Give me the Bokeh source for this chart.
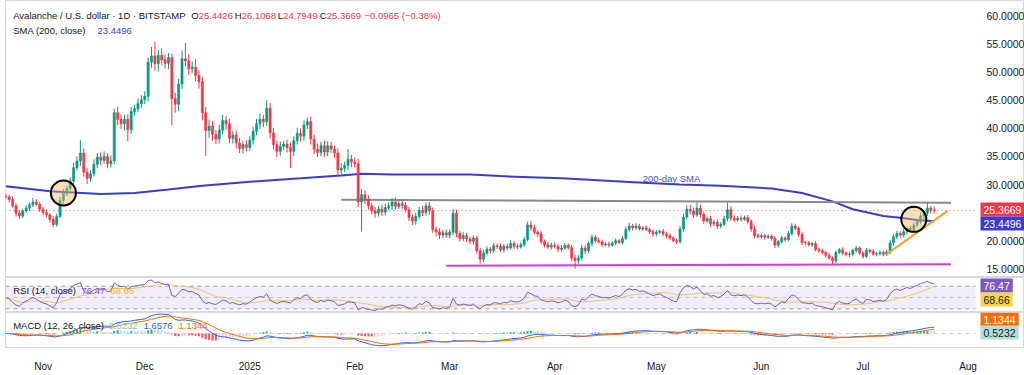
import numpy as np
import pandas as pd
from bokeh.plotting import figure
from bokeh.layouts import column
from bokeh.models import (Range1d, FixedTicker, Label, Span, ColumnDataSource,
                          BoxAnnotation, NumeralTickFormatter)
from bokeh.embed import file_html
from bokeh.resources import INLINE
from bokeh.core.properties import value

# ---------------- data ----------------
start_date = "2024-10-21"
first_open = 27.9

close_oct = [27.8, 27.3, 26.2, 24.9, 24.4, 25.3, 25.8, 26.4, 26.9, 26.5, 25.6]
close_nov = [25.0, 24.6, 23.8, 22.9, 24.3, 27.2, 28.4, 29.3, 30.6, 33.0, 34.2, 35.6, 32.2, 31.1, 31.9,
             33.6, 34.9, 34.3, 35.0, 33.7, 34.2, 42.8, 41.6, 40.8, 41.6, 39.8, 43.0, 43.5, 44.4, 45.1]
close_dec = [45.7, 51.8, 52.9, 51.5, 53.0, 52.2, 51.6, 52.6, 45.3, 44.3, 47.9, 52.4, 52.0, 50.6, 50.9,
             49.4, 48.3, 42.8, 39.6, 40.4, 38.9, 38.1, 39.7, 41.4, 40.8, 38.2, 38.8, 37.4, 36.4, 37.1, 36.6]
close_jan = [37.9, 39.5, 40.8, 41.6, 41.2, 43.6, 39.2, 37.1, 35.9, 36.8, 37.2, 36.6, 35.9, 37.8, 39.1,
             38.6, 40.6, 41.2, 38.1, 36.3, 35.7, 36.9, 35.8, 36.9, 36.3, 35.6, 32.6, 32.9, 33.4, 34.5, 34.0]
close_feb = [33.7, 26.9, 28.2, 27.4, 26.2, 25.3, 24.9, 25.6, 25.1, 25.9, 26.2, 26.9, 26.1, 26.6,
             26.3, 25.5, 24.1, 23.5, 24.3, 25.4, 25.0, 26.2, 25.3, 22.0, 21.6, 21.0, 21.4, 21.0]
close_mar = [21.5, 24.9, 21.3, 20.4, 20.9, 20.3, 19.9, 20.5, 18.2, 16.7, 17.8, 18.5, 18.2, 19.1, 19.0,
             18.4, 19.0, 18.7, 19.5, 19.0, 18.9, 19.3, 20.2, 22.8, 22.3, 21.5, 21.2, 19.8, 19.3, 18.9, 19.2]
close_apr = [19.0, 18.5, 18.7, 19.2, 18.8, 16.9, 16.5, 16.9, 18.7, 18.2, 19.5, 20.6, 20.0, 19.8, 19.3,
             19.4, 19.2, 19.6, 20.0, 19.7, 20.4, 22.0, 22.6, 22.3, 22.6, 22.1, 22.3, 22.0, 21.6, 21.2]
close_may = [21.5, 21.7, 21.2, 20.9, 20.5, 20.0, 19.8, 22.1, 24.2, 25.6, 25.3, 24.6, 25.8, 24.7, 23.5,
             23.9, 23.0, 23.3, 22.6, 22.9, 23.9, 25.5, 24.0, 23.7, 24.0, 23.8, 24.1, 23.4, 22.1, 20.9, 20.7]
close_jun = [20.9, 20.6, 20.8, 20.4, 19.2, 19.8, 20.5, 20.2, 21.3, 22.6, 22.2, 21.1, 19.7, 19.6, 19.3,
             19.5, 18.4, 18.2, 17.9, 17.4, 16.9, 16.4, 17.9, 18.4, 17.8, 17.5, 17.6, 18.3, 18.7, 17.8]
close_jul = [17.2, 18.3, 18.1, 17.6, 17.7, 17.9, 17.6, 18.0, 19.6, 20.7, 21.3, 21.0, 21.6, 22.2, 22.0,
             22.8, 23.4, 24.4, 24.9, 25.8, 25.4426, 25.3669]

up_oct = [0.5, 0.4, 0.6, 0.5, 0.6, 0.4, 0.5, 0.4, 0.7, 0.5, 0.4]
dn_oct = [0.4, 0.5, 0.3, 0.6, 0.5, 0.4, 0.3, 0.5, 0.4, 0.3, 0.5]
up_nov = [0.4, 0.5, 0.3, 0.6, 0.5, 0.6, 0.8, 0.5, 0.7, 0.9, 0.8, 2.3, 0.8, 0.7, 0.6,
          0.9, 0.7, 0.8, 0.9, 0.6, 1.0, 0.7, 1.1, 0.9, 0.8, 0.9, 0.8, 0.7, 0.9, 0.8]
dn_nov = [0.5, 0.4, 0.6, 0.5, 0.4, 0.3, 0.6, 0.5, 0.4, 0.6, 0.5, 0.9, 0.8, 1.0, 0.6,
          0.5, 0.7, 0.9, 0.6, 0.8, 0.7, 0.6, 1.0, 0.9, 1.2, 2.1, 0.8, 0.7, 0.6, 0.8]
up_dec = [0.9, 0.8, 1.6, 2.5, 1.0, 1.2, 0.9, 0.8, 0.7, 1.0, 0.9, 1.5, 2.8, 1.2, 1.0,
          1.4, 0.9, 0.8, 1.0, 1.2, 0.9, 0.8, 0.9, 1.0, 0.8, 0.9, 0.7, 0.8, 0.9, 0.7, 0.8]
dn_dec = [0.8, 0.9, 1.0, 1.2, 1.4, 0.9, 1.0, 1.1, 4.8, 1.5, 1.2, 0.9, 1.0, 1.1, 0.8,
          1.0, 1.2, 1.4, 4.5, 1.3, 1.1, 0.9, 0.8, 0.7, 1.0, 0.8, 0.9, 1.0, 0.8, 0.9, 0.7]
up_jan = [0.7, 0.8, 0.9, 1.0, 0.8, 1.4, 0.9, 0.8, 0.7, 0.9, 0.6, 0.8, 0.9, 0.8, 1.0,
          0.9, 0.8, 0.7, 0.9, 0.8, 1.0, 0.7, 0.9, 0.8, 0.7, 0.6, 0.8, 0.9, 0.7, 1.8, 0.8]
dn_jan = [0.6, 0.8, 0.7, 0.9, 1.0, 0.8, 1.0, 0.9, 1.0, 0.8, 0.7, 0.9, 3.0, 0.8, 0.7,
          0.9, 0.8, 0.7, 1.0, 0.9, 0.8, 0.7, 0.9, 0.8, 0.7, 0.8, 1.0, 0.9, 0.7, 0.8, 0.9]
up_feb = [0.8, 0.9, 1.0, 0.8, 0.7, 0.6, 0.7, 0.6, 0.8, 0.7, 0.6, 0.7, 0.8, 0.6,
          0.5, 0.6, 0.5, 0.6, 0.7, 0.6, 0.8, 0.6, 0.7, 0.6, 0.5, 0.6, 0.5, 0.6]
dn_feb = [0.7, 0.9, 5.3, 0.8, 0.7, 0.6, 0.8, 0.6, 0.7, 0.6, 0.5, 0.7, 0.6, 0.5,
          0.6, 0.5, 0.6, 0.7, 0.6, 0.5, 0.6, 0.5, 0.7, 0.6, 0.8, 0.7, 0.6, 0.5]
up_mar = [0.5, 0.8, 0.6, 0.5, 0.6, 0.5, 0.4, 0.5, 0.4, 0.5, 0.6, 0.5, 0.4, 0.5, 0.4,
          0.5, 0.4, 0.5, 0.6, 0.4, 0.5, 0.4, 0.5, 0.6, 0.7, 0.5, 0.4, 0.5, 0.4, 0.5, 0.4]
dn_mar = [0.6, 0.5, 0.7, 0.6, 0.5, 0.6, 0.5, 0.6, 0.5, 0.8, 0.5, 0.4, 0.5, 0.4, 0.5,
          0.4, 0.5, 0.4, 0.3, 0.5, 0.4, 0.3, 0.4, 0.3, 0.5, 0.4, 0.5, 0.4, 0.5, 0.4, 0.5]
up_apr = [0.5, 0.4, 0.5, 0.4, 0.3, 0.4, 0.6, 0.5, 0.6, 0.5, 0.4, 0.5, 0.4, 0.5, 0.4,
          0.3, 0.4, 0.3, 0.4, 0.3, 0.4, 0.5, 0.6, 0.4, 0.5, 0.4, 0.3, 0.4, 0.3, 0.4]
dn_apr = [0.4, 0.5, 0.4, 0.3, 0.4, 0.5, 1.5, 0.6, 0.5, 0.6, 0.4, 0.5, 0.4, 0.3, 0.4,
          0.3, 0.4, 0.3, 0.4, 0.3, 0.4, 0.3, 0.4, 0.5, 0.4, 0.3, 0.4, 0.3, 0.4, 0.5]
up_may = [0.4, 0.3, 0.4, 0.3, 0.4, 0.3, 0.4, 0.5, 0.6, 0.7, 0.8, 0.6, 1.0, 0.6, 0.5,
          0.4, 0.5, 0.4, 0.5, 0.4, 0.5, 1.3, 0.6, 0.5, 0.4, 0.5, 0.4, 0.5, 0.4, 0.5, 0.4]
dn_may = [0.4, 0.3, 0.4, 0.5, 0.4, 0.3, 0.4, 0.3, 0.5, 0.4, 0.6, 0.5, 0.4, 0.6, 0.5,
          0.4, 0.5, 0.4, 0.5, 0.4, 0.3, 0.4, 0.5, 0.4, 0.3, 0.4, 0.3, 0.4, 0.5, 0.4, 0.3]
up_jun = [0.4, 0.3, 0.4, 0.3, 0.4, 0.3, 0.4, 0.3, 0.4, 0.5, 0.4, 0.3, 0.4, 0.3, 0.4,
          0.3, 0.4, 0.3, 0.4, 0.3, 0.4, 0.3, 0.4, 0.3, 0.4, 0.3, 0.4, 0.3, 0.4, 0.3]
dn_jun = [0.3, 0.4, 0.3, 0.4, 0.5, 0.4, 0.3, 0.4, 0.3, 0.4, 0.3, 0.4, 0.5, 0.4, 0.3,
          0.4, 0.3, 0.4, 0.3, 0.4, 0.3, 0.5, 0.4, 0.3, 0.4, 0.3, 0.4, 0.3, 0.4, 0.3]
up_jul = [0.3, 0.4, 0.3, 0.4, 0.3, 0.4, 0.3, 0.4, 0.5, 0.4, 0.5, 0.4, 0.5, 0.4, 0.5,
          0.4, 0.5, 0.6, 0.5, 0.9, 0.4, 0.6642]
dn_jul = [0.4, 0.3, 0.4, 0.3, 0.4, 0.3, 0.4, 0.3, 0.4, 0.5, 0.4, 0.5, 0.4, 0.5, 0.4,
          0.5, 0.4, 0.5, 0.6, 0.5, 0.6, 0.572]

sma_dates = ["2024-10-21", "2024-11-03", "2024-11-18", "2024-11-28", "2024-12-08", "2024-12-18",
             "2025-01-01", "2025-01-16", "2025-01-28", "2025-02-03", "2025-02-12", "2025-03-07",
             "2025-03-16", "2025-04-03", "2025-04-27", "2025-05-08", "2025-05-20", "2025-06-04",
             "2025-06-13", "2025-06-22", "2025-06-28", "2025-07-07", "2025-07-12", "2025-07-17",
             "2025-07-22"]
sma_values = [29.7, 28.8, 28.3, 28.5, 29.1, 29.8, 30.5, 31.1, 31.6, 31.9, 31.8, 31.8,
              31.5, 31.1, 30.3, 30.0, 29.8, 29.3, 28.5, 27.0, 25.6, 24.4, 24.1, 23.7, 23.4496]

res_dates = ["2025-01-28", "2025-07-27"]
res_prices = [27.3, 26.75]
sup_dates = ["2025-02-28", "2025-07-27"]
sup_prices = [15.55, 15.8]
trend_dates = ["2025-07-08", "2025-07-26"]
trend_prices = [17.6, 25.3]
circle_dates = ["2024-11-07", "2025-07-16"]
circle_prices = [28.5, 23.8]
note_dates = ["2025-04-27"]
note_prices = [31.1]
note_texts = ["200-day SMA"]

tick_dates = ["2024-11-01", "2024-12-01", "2025-01-01", "2025-02-01", "2025-03-01",
              "2025-04-01", "2025-05-01", "2025-06-01", "2025-07-01", "2025-08-01"]
tick_labels = ["Nov", "Dec", "2025", "Feb", "Mar", "Apr", "May", "Jun", "Jul", "Aug"]
price_ticks = [15, 20, 30, 35, 40, 45, 50, 55, 60]

last_price = 25.3669
last_sma = 23.4496
rsi_last, rsi_ma_last = "76.47", "68.66"
macd_hist_last, macd_last, macd_signal_last = "0.5232", "1.6576", "1.1344"

# ---------------- derived series ----------------
closes = (close_oct + close_nov + close_dec + close_jan + close_feb + close_mar +
          close_apr + close_may + close_jun + close_jul)
wick_up = up_oct + up_nov + up_dec + up_jan + up_feb + up_mar + up_apr + up_may + up_jun + up_jul
wick_dn = dn_oct + dn_nov + dn_dec + dn_jan + dn_feb + dn_mar + dn_apr + dn_may + dn_jun + dn_jul
n = len(closes)
assert len(wick_up) == n and len(wick_dn) == n

t0 = pd.Timestamp(start_date)


def dix(d):
    return (pd.Timestamp(d) - t0).days


x = np.arange(n)
c = np.array(closes)
o = np.concatenate([[first_open], c[:-1]])
hi = np.maximum(o, c) + np.array(wick_up)
lo = np.minimum(o, c) - np.array(wick_dn)
UP, DN = "#089981", "#f23645"
col = np.where(c >= o, UP, DN)
top = np.maximum(o, c)
bot = np.minimum(o, c)
top = np.where(top - bot < 0.08, bot + 0.08, top)
src = ColumnDataSource(dict(x=x, hi=hi, lo=lo, top=top, bot=bot, col=col))

# RSI 14 (Wilder) + 14 SMA
delta = np.diff(c, prepend=c[0])
seed = np.abs(delta[1:15]).mean() / 2
ag = al = seed
rsi = []
for d in delta:
    ag = (ag * 13 + max(d, 0)) / 14
    al = (al * 13 + max(-d, 0)) / 14
    rsi.append(100 - 100 / (1 + ag / al) if al > 0 else 100.0)
rsi = np.array(rsi)
rsi_ma = pd.Series(rsi).rolling(14, min_periods=1).mean().to_numpy()

cs = pd.Series(c)
macd = (cs.ewm(span=12, adjust=False).mean() - cs.ewm(span=26, adjust=False).mean()).to_numpy()
signal = pd.Series(macd).ewm(span=9, adjust=False).mean().to_numpy()
hist = macd - signal
prev = np.concatenate([[hist[0]], hist[:-1]])
hcol = np.where(hist >= 0, np.where(hist >= prev, "#26a69a", "#b2dfdb"),
                np.where(hist < prev, "#ff5252", "#ffcdd2"))

# ---------------- figures ----------------
FONT = "Liberation Sans"
TXT = "#131722"
W = 1024
PX_PER_DAY = 3.388
X0 = -0.1
x_end = X0 + (W - 5) / PX_PER_DAY          # frame runs to the right edge
scale_x = X0 + 970 / PX_PER_DAY            # where the price scale starts
xr = Range1d(X0, x_end)
common = dict(width=W, x_range=xr, output_backend="svg", toolbar_location=None,
              min_border_left=5, min_border_right=0, min_border_top=0,
              background_fill_color="white", border_fill_color="white",
              outline_line_color="#d6d9e0")

p1 = figure(height=277, y_range=Range1d(13.45, 62.76), x_axis_location=None,
            y_axis_location="right", min_border_bottom=0, **common)
p2 = figure(height=35, y_range=Range1d(23.45, 85.4), x_axis_location=None,
            y_axis_location=None, min_border_bottom=0, **common)
T = max(np.max(np.r_[macd, signal]) * 1.08, -np.min(np.r_[macd, signal]) * 1.5 * 1.05)
p3 = figure(height=63, y_range=Range1d(-T * 14 / 21, T), x_axis_location="below",
            y_axis_location=None, min_border_bottom=28, **common)

for p in (p1, p2, p3):
    p.grid.visible = False

# price axis (drawn at the start of the price scale)
ax = p1.yaxis[0]
ax.fixed_location = scale_x
ax.ticker = FixedTicker(ticks=price_ticks)
ax.formatter = NumeralTickFormatter(format="0.0000")
ax.axis_line_color = None
ax.major_tick_line_color = None
ax.minor_tick_line_color = None
ax.major_label_text_font = FONT
ax.major_label_text_font_size = "10.5px"
ax.major_label_text_color = TXT
ax.major_label_standoff = 5

# date axis
xa = p3.xaxis[0]
tick_pos = [dix(d) for d in tick_dates]
xa.ticker = FixedTicker(ticks=tick_pos)
xa.major_label_overrides = {tp: lab for tp, lab in zip(tick_pos, tick_labels)}
xa.axis_line_color = None
xa.major_tick_line_color = None
xa.minor_tick_line_color = None
xa.major_label_text_font = FONT
xa.major_label_text_font_size = "10px"
xa.major_label_text_color = TXT
xa.major_label_standoff = 7

# ---- main pane ----
SMA_C = "#3b3bcf"
p1.line([X0, scale_x], [last_price, last_price], line_color=DN, line_dash="1 3",
        line_width=1, line_alpha=0.8)
p1.line([dix(d) for d in sma_dates], sma_values, line_color=SMA_C, line_width=2)
p1.line([dix(d) for d in res_dates], res_prices, line_color="#8a8a8a", line_width=2)
p1.line([dix(d) for d in sup_dates], sup_prices, line_color="#d63bd3", line_width=2)
p1.segment(x0="x", y0="hi", x1="x", y1="lo", line_color="col", line_width=1, source=src)
p1.vbar(x="x", width=0.62, top="top", bottom="bot", fill_color="col", line_color="col",
        line_width=0.6, source=src)
p1.line([dix(d) for d in trend_dates], trend_prices, line_color="#f0a42c", line_width=2)
p1.scatter([dix(d) for d in circle_dates], circle_prices, size=25, marker="circle",
           fill_color="#f5b566", fill_alpha=0.45, line_color="black", line_width=2)
p1.text([dix(d) for d in note_dates], note_prices, text=note_texts,
        text_font=value(FONT), text_font_size="9.5px", text_color="#3f4bd1",
        text_baseline="middle", text_align="left")


def lab(p, xs, ys, text, color, size="9.5px"):
    p.add_layout(Label(x=xs, y=ys, x_units="screen", y_units="screen", text=text,
                       text_font=FONT, text_font_size=size, text_color=color,
                       text_baseline="middle", text_align="left"))


def tag(p, ys, text, bg, fg):
    p.add_layout(Label(x=975, y=ys, x_units="screen", y_units="screen", text=text,
                       text_font=FONT, text_font_size="10.5px", text_color=fg,
                       text_baseline="middle", text_align="left",
                       background_fill_color=bg, padding=3))


# header
lab(p1, 7.7, 262, "Avalanche / U.S. dollar · 1D · BITSTAMP", TXT)
lab(p1, 185.7, 262, "O", TXT)
lab(p1, 193.1, 262, "25.4426", DN)
lab(p1, 229.3, 262, "H", TXT)
lab(p1, 236.2, 262, "26.1068", DN)
lab(p1, 272.3, 262, "L", TXT)
lab(p1, 277.6, 262, "24.7949", DN)
lab(p1, 314.3, 262, "C", TXT)
lab(p1, 321.2, 262, "25.3669", DN)
lab(p1, 359.0, 262, "−0.0965 (−0.38%)", DN)
lab(p1, 7.7, 247, "SMA (200, close)", TXT)
lab(p1, 92.0, 247, f"{last_sma:.4f}", SMA_C)

tag(p1, 68, f"{last_price:.4f}", DN, "white")
tag(p1, 54, f"{last_sma:.4f}", SMA_C, "white")

# ---- RSI pane ----
p2.add_layout(BoxAnnotation(left=X0, right=scale_x, bottom=30, top=70, fill_color="#7e57c2",
                            fill_alpha=0.1, line_color=None))
for lvl, a in ((70, 0.9), (50, 0.5), (30, 0.9)):
    p2.line([X0, scale_x], [lvl, lvl], line_color="#9598a1", line_dash="4 4",
            line_width=1, line_alpha=a)
p2.line(x, rsi_ma, line_color="#f5c542", line_width=1, line_alpha=0.8)
p2.line(x, rsi, line_color="#7e57c2", line_width=1)
lab(p2, 7.7, 22, "RSI (14, close)", TXT)
lab(p2, 76, 22, rsi_last, "#7e57c2")
lab(p2, 105, 22, rsi_ma_last, "#e8b923")
tag(p2, 27, rsi_last, "#7e57c2", "white")
tag(p2, 13, rsi_ma_last, "#f7d54a", TXT)

# ---- MACD pane ----
p3.line([X0, scale_x], [0, 0], line_color="#9598a1", line_dash="4 4",
        line_width=1, line_alpha=0.5)
p3.vbar(x=x, width=0.6, top=hist, bottom=0, fill_color=hcol, line_color=None)
p3.line(x, macd, line_color="#2962ff", line_width=1)
p3.line(x, signal, line_color="#ff6d00", line_width=1)
lab(p3, 7.7, 22, "MACD (12, 26, close)", TXT)
lab(p3, 103, 22, macd_hist_last, "#80cbc4")
lab(p3, 138, 22, macd_last, "#2962ff")
lab(p3, 173, 22, macd_signal_last, "#ff6d00")
tag(p3, 28, macd_signal_last, "#ff6d00", "white")
tag(p3, 15, macd_hist_last, "#b2dfdb", TXT)

layout = column(p1, p2, p3, spacing=0)
open("out.html", "w").write(file_html(layout, INLINE))
